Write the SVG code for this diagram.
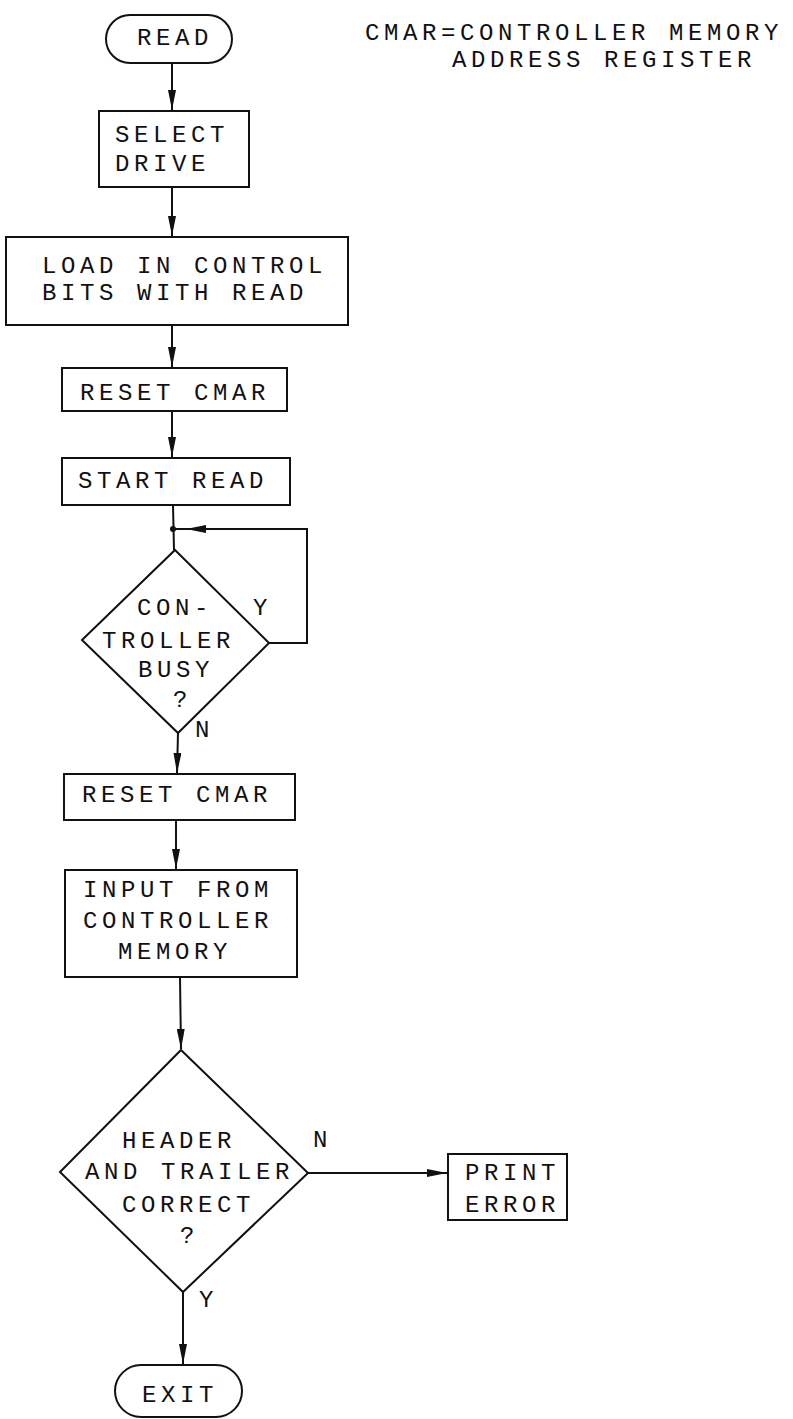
<svg xmlns="http://www.w3.org/2000/svg" width="793" height="1419" viewBox="0 0 793 1419">
<style>
.s{fill:none;stroke:#111;stroke-width:2}
.b{fill:#fff;stroke:#111;stroke-width:2}
.t{font-family:"Liberation Mono","DejaVu Sans Mono",monospace;font-size:24px;letter-spacing:4.6px;fill:#111}
</style>
<defs>
<marker id="ah" markerUnits="userSpaceOnUse" markerWidth="20" markerHeight="8" refX="20" refY="4" orient="auto">
<path d="M0,0 L20,4 L0,8 z" fill="#111"/>
</marker>
</defs>
<g id="connectors">
<line class="s" x1="172" y1="63" x2="172" y2="110" marker-end="url(#ah)"/>
<line class="s" x1="172" y1="187" x2="172" y2="236" marker-end="url(#ah)"/>
<line class="s" x1="172" y1="325" x2="172" y2="367" marker-end="url(#ah)"/>
<line class="s" x1="172" y1="411" x2="172" y2="457" marker-end="url(#ah)"/>
<line class="s" x1="173" y1="505" x2="174" y2="550"/>
<polyline class="s" points="269,643 307,643 307,529 173,529"/>
<line class="s" x1="210" y1="529" x2="186" y2="529" marker-end="url(#ah)"/>
<circle cx="173" cy="529" r="3" fill="#111"/>
<line class="s" x1="178" y1="733" x2="177" y2="773" marker-end="url(#ah)"/>
<line class="s" x1="176" y1="820" x2="176" y2="869" marker-end="url(#ah)"/>
<line class="s" x1="180" y1="977" x2="181" y2="1049" marker-end="url(#ah)"/>
<line class="s" x1="308" y1="1173" x2="447" y2="1173" marker-end="url(#ah)"/>
<line class="s" x1="183" y1="1292" x2="183" y2="1364" marker-end="url(#ah)"/>
</g>
<g id="read">
<rect class="b" x="106" y="15" width="126" height="48" rx="24" ry="24"/>
<text class="t" x="137" y="45">READ</text>
</g>
<g id="note">
<text class="t" x="365" y="40">CMAR=CONTROLLER MEMORY</text>
<text class="t" x="452" y="67">ADDRESS REGISTER</text>
</g>
<g id="select-drive">
<rect class="b" x="99" y="111" width="150" height="76"/>
<text class="t" x="115" y="142">SELECT</text>
<text class="t" x="115" y="171">DRIVE</text>
</g>
<g id="load-control">
<rect class="b" x="6" y="237" width="342" height="88"/>
<text class="t" x="42" y="273">LOAD IN CONTROL</text>
<text class="t" x="42" y="300">BITS WITH READ</text>
</g>
<g id="reset-cmar-1">
<rect class="b" x="62" y="368" width="225" height="43"/>
<text class="t" x="80" y="400">RESET CMAR</text>
</g>
<g id="start-read">
<rect class="b" x="62" y="458" width="228" height="47"/>
<text class="t" x="78" y="488">START READ</text>
</g>
<g id="controller-busy">
<polygon class="b" points="175,550 269,643 178,733 82,640"/>
<text class="t" x="137" y="615">CON-</text>
<text class="t" x="102" y="648">TROLLER</text>
<text class="t" x="138" y="677">BUSY</text>
<text class="t" x="173" y="707">?</text>
<text class="t" x="253" y="615">Y</text>
<text class="t" x="195" y="737">N</text>
</g>
<g id="reset-cmar-2">
<rect class="b" x="64" y="774" width="231" height="46"/>
<text class="t" x="82" y="802">RESET CMAR</text>
</g>
<g id="input-memory">
<rect class="b" x="65" y="870" width="232" height="107"/>
<text class="t" x="83" y="897">INPUT FROM</text>
<text class="t" x="83" y="928">CONTROLLER</text>
<text class="t" x="118" y="959">MEMORY</text>
</g>
<g id="header-trailer">
<polygon class="b" points="181,1050 308,1173 183,1292 60,1172"/>
<text class="t" x="122" y="1148">HEADER</text>
<text class="t" x="85" y="1179">AND TRAILER</text>
<text class="t" x="122" y="1212">CORRECT</text>
<text class="t" x="180" y="1243">?</text>
<text class="t" x="313" y="1147">N</text>
<text class="t" x="199" y="1307">Y</text>
</g>
<g id="print-error">
<rect class="b" x="448" y="1154" width="119" height="66"/>
<text class="t" x="465" y="1180">PRINT</text>
<text class="t" x="465" y="1212">ERROR</text>
</g>
<g id="exit">
<rect class="b" x="115" y="1365" width="127" height="52" rx="26" ry="26"/>
<text class="t" x="142" y="1402">EXIT</text>
</g>
</svg>
